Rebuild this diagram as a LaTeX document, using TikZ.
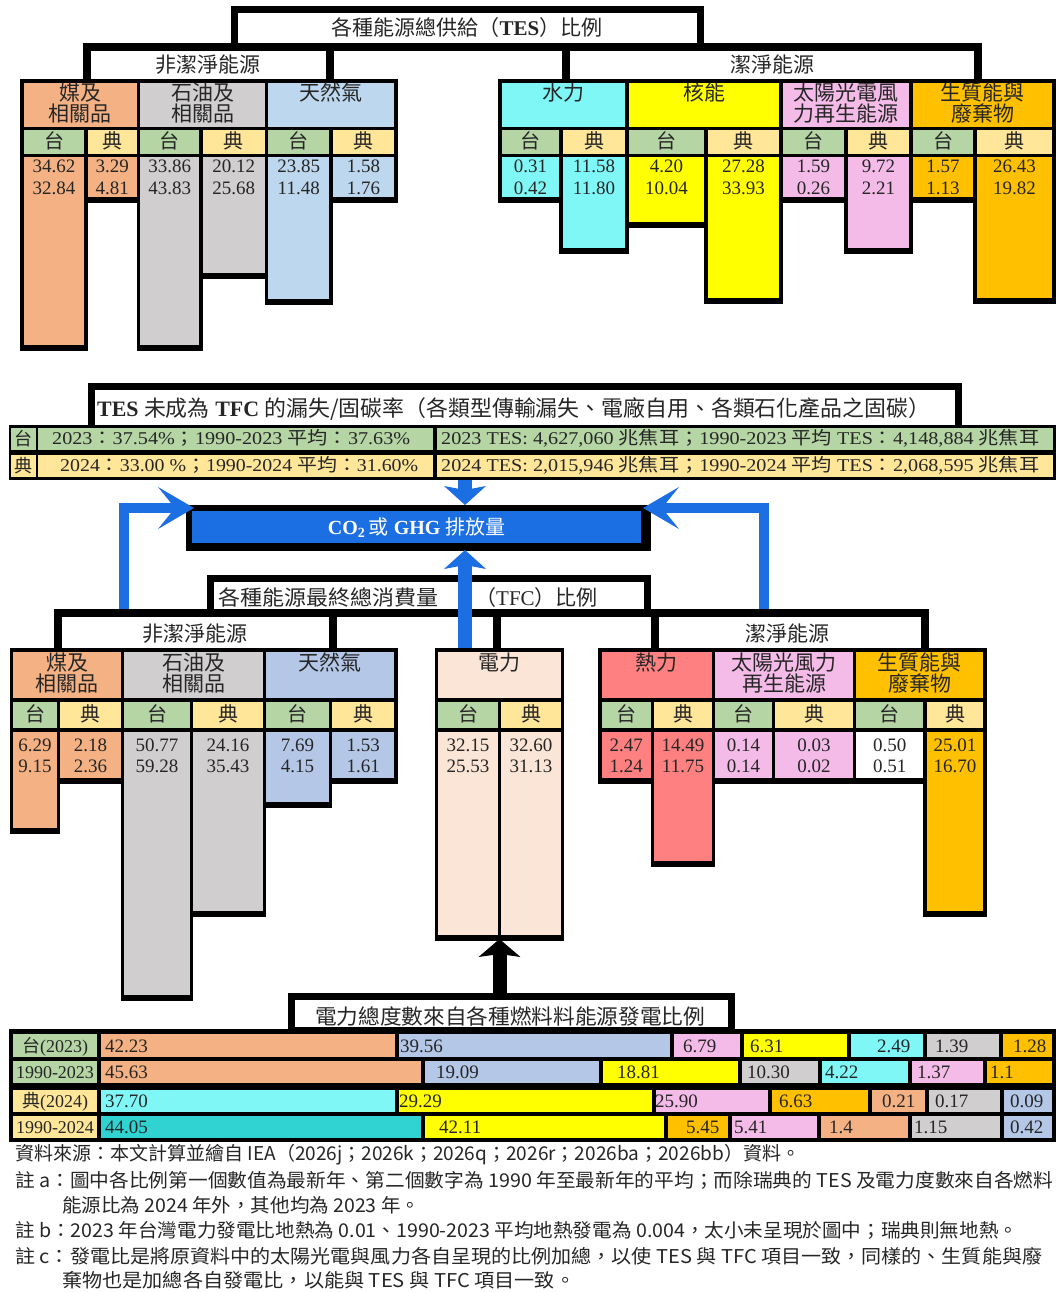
\documentclass[tikz,border=0pt]{standalone}
\usepackage{fontspec}
\usepackage{graphicx}
\setmainfont{Liberation Serif}
\newfontfamily\cjk{Noto Sans CJK TC}
\usetikzlibrary{arrows.meta}
\newcommand\C[1]{{\cjk #1}}
\newcommand\fs[1]{\fontsize{#1}{#1}\selectfont}
\definecolor{coal}{HTML}{F4B183}
\definecolor{oil}{HTML}{D0CECE}
\definecolor{gasT}{HTML}{BDD7EE}
\definecolor{gasB}{HTML}{B4C7E7}
\definecolor{hydro}{HTML}{80F7F7}
\definecolor{hydroD}{HTML}{30D2D2}
\definecolor{nuc}{HTML}{FFFF00}
\definecolor{solar}{HTML}{F4BBE8}
\definecolor{bio}{HTML}{FFC000}
\definecolor{elec}{HTML}{FBE5D6}
\definecolor{heat}{HTML}{FF8080}
\definecolor{tw}{HTML}{B5D5A5}
\definecolor{sw}{HTML}{FFE699}
\definecolor{cblue}{HTML}{1C6FE3}
\definecolor{ink}{HTML}{262626}
\tikzset{
  cl/.style={draw=black, line width=3.5pt},
  tx/.style={inner sep=0pt, anchor=base, text=ink},
  txw/.style={inner sep=0pt, anchor=base west, text=ink},
  frm/.style={draw=black, line width=7pt, fill=white},
  brk/.style={draw=black, line width=8pt, line join=miter},
  barrow/.style={draw=cblue, line width=14pt, -{Stealth[length=19pt, width=42pt, inset=4pt, line width=0pt]}},
  sarrow/.style={draw=cblue, line width=10pt, line join=miter, -{Stealth[length=36pt, width=42pt, inset=17pt, line width=0pt]}},
  karrow/.style={draw=black, line width=14pt, -{Stealth[length=18pt, width=42pt, inset=3pt, line width=0pt]}},
}
\newcommand\bx[5]{\filldraw[cl, fill=#5] (#1,#2) rectangle (#3,#4);}
\newcommand\bb[5]{\fill[black] (#1-1.75,#4) rectangle (#3+1.75,#4+4);\filldraw[cl, fill=#5] (#1,#2) rectangle (#3,#4);}
\newcommand\hd[5]{\node[tx, font=\cjk\fs{21}] (#1a) at (#2,#5) {#3};
  \node[tx, font=\cjk\fs{21}] (#1b) at (#2,#5+21) {#4};}
\newcommand\tai[3]{\node[tx, font=\cjk\fs{20}] (#1) at (#2,#3) {台};}
\newcommand\dian[3]{\node[tx, font=\cjk\fs{20}] (#1) at (#2,#3) {典};}
\newcommand\nm[5]{\node[tx, font=\fs{19}] (#1a) at (#2,#3) {#4};
  \node[tx, font=\fs{19}] (#1b) at (#2,#3+21) {#5};}
\newcommand\en[4]{\node[txw, font=\fs{19}] (#1) at (#2,#3) {#4};}
\begin{document}
\begin{tikzpicture}[x=1pt,y=-1pt]
\useasboundingbox (0,0) rectangle (1057,1292);
\fill[white] (0,0) rectangle (1057,1292);

% ================= TES tree =================
\draw[frm] (234.5,9.5) rectangle (700.5,47);
\draw[brk] (87,82) -- (87,47) -- (978,47) -- (978,82);
\draw[brk] (330,47) -- (330,82);
\draw[brk] (566,47) -- (566,82);
\node[tx, font=\fs{21}] (tesT) at (467,36) {\C{各種能源總供給（}\textbf{TES}\C{）比例}};
\node[tx, font=\cjk\fs{21}] (tesNC) at (208,73) {非潔淨能源};
\node[tx, font=\cjk\fs{21}] (tesCL) at (772,73) {潔淨能源};

% left table (TES)
\bx{22}{81}{138.5}{128.5}{coal}
\bx{138.5}{81}{266.5}{128.5}{oil}
\bx{266.5}{81}{396}{128.5}{gasT}
\bx{22}{128.5}{86}{155.5}{tw}
\bx{86}{128.5}{138.5}{155.5}{sw}
\bx{138.5}{128.5}{201}{155.5}{tw}
\bx{201}{128.5}{266.5}{155.5}{sw}
\bx{266.5}{128.5}{331}{155.5}{tw}
\bx{331}{128.5}{396}{155.5}{sw}
\bb{22}{155.5}{86}{347}{coal}
\bb{86}{155.5}{138.5}{199}{coal}
\bb{138.5}{155.5}{201}{347}{oil}
\bb{201}{155.5}{266.5}{275}{oil}
\bb{266.5}{155.5}{331}{301}{gasT}
\bb{331}{155.5}{396}{199}{gasT}
\hd{hT1}{80.25}{媒及}{相關品}{101}
\hd{hT2}{202.5}{石油及}{相關品}{101}
\hd{hT3}{331.25}{天然氣}{}{101}
\tai{sT1}{54}{149}
\dian{sT2}{112.25}{149}
\tai{sT3}{169.75}{149}
\dian{sT4}{233.75}{149}
\tai{sT5}{298.75}{149}
\dian{sT6}{363.5}{149}
\nm{nT1}{54}{173}{34.62}{32.84}
\nm{nT2}{112.25}{173}{3.29}{4.81}
\nm{nT3}{169.75}{173}{33.86}{43.83}
\nm{nT4}{233.75}{173}{20.12}{25.68}
\nm{nT5}{298.75}{173}{23.85}{11.48}
\nm{nT6}{363.5}{173}{1.58}{1.76}

% right table (TES)
\bx{500}{81}{627}{128.5}{hydro}
\bx{627}{81}{781}{128.5}{nuc}
\bx{781}{81}{911}{128.5}{solar}
\bx{911}{81}{1054}{128.5}{bio}
\bx{500}{128.5}{561}{155.5}{tw}
\bx{561}{128.5}{627}{155.5}{sw}
\bx{627}{128.5}{706}{155.5}{tw}
\bx{706}{128.5}{781}{155.5}{sw}
\bx{781}{128.5}{846}{155.5}{tw}
\bx{846}{128.5}{911}{155.5}{sw}
\bx{911}{128.5}{975}{155.5}{tw}
\bx{975}{128.5}{1054}{155.5}{sw}
\bb{500}{155.5}{561}{199}{hydro}
\bb{561}{155.5}{627}{250}{hydro}
\bb{627}{155.5}{706}{224}{nuc}
\bb{706}{155.5}{781}{300}{nuc}
\bb{781}{155.5}{846}{199}{solar}
\bb{846}{155.5}{911}{250}{solar}
\bb{911}{155.5}{975}{199}{bio}
\bb{975}{155.5}{1054}{300}{bio}
\hd{hT4}{563.5}{水力}{}{101}
\hd{hT5}{704}{核能}{}{101}
\hd{hT6}{846}{太陽光電風}{力再生能源}{101}
\hd{hT7}{982.5}{生質能與}{廢棄物}{101}
\tai{sT7}{530.5}{149}
\dian{sT8}{594}{149}
\tai{sT9}{666.5}{149}
\dian{sT10}{743.5}{149}
\tai{sT11}{813.5}{149}
\dian{sT12}{878.5}{149}
\tai{sT13}{943}{149}
\dian{sT14}{1014.5}{149}
\nm{nT7}{530.5}{173}{0.31}{0.42}
\nm{nT8}{594}{173}{11.58}{11.80}
\nm{nT9}{666.5}{173}{4.20}{10.04}
\nm{nT10}{743.5}{173}{27.28}{33.93}
\nm{nT11}{813.5}{173}{1.59}{0.26}
\nm{nT12}{878.5}{173}{9.72}{2.21}
\nm{nT13}{943}{173}{1.57}{1.13}
\nm{nT14}{1014.5}{173}{26.43}{19.82}

% ================= loss rate rows =================
\draw[frm] (91.5,386.5) rectangle (958.5,428);
\node[txw, font=\fs{22}] (lossT) at (97,416) {\resizebox{833pt}{\height}{\textbf{TES} \C{未成為} \textbf{TFC} \C{的漏失/固碳率（各類型傳輸漏失、電廠自用、各類石化產品之固碳）}}};
\fill[black] (9,425) rectangle (1056,480);
\fill[tw] (11,428) rectangle (36,450);
\fill[tw] (38,428) rectangle (433,450);
\fill[tw] (437,428) rectangle (1053,450);
\fill[sw] (11,455) rectangle (36,477);
\fill[sw] (38,455) rectangle (433,477);
\fill[sw] (437,455) rectangle (1053,477);
\node[tx, font=\cjk\fs{18}] (rTl) at (23.5,445) {台};
\node[txw, font=\fs{18}] (rTa) at (52,444) {\resizebox{358pt}{\height}{2023\C{：}37.54\%\C{；}1990-2023 \C{平均：}37.63\%}};
\node[txw, font=\fs{18}] (rTb) at (441,444) {\resizebox{598pt}{\height}{2023 TES: 4,627,060 \C{兆焦耳；}1990-2023 \C{平均} TES\C{：}4,148,884 \C{兆焦耳}}};
\node[tx, font=\cjk\fs{18}] (rDl) at (23.5,472) {典};
\node[txw, font=\fs{18}] (rDa) at (60,471) {\resizebox{358pt}{\height}{2024\C{：}33.00 \%\C{；}1990-2024 \C{平均：}31.60\%}};
\node[txw, font=\fs{18}] (rDb) at (441,471) {\resizebox{598pt}{\height}{2024 TES: 2,015,946 \C{兆焦耳；}1990-2024 \C{平均} TES\C{：}2,068,595 \C{兆焦耳}}};

% ================= CO2 box =================
\fill[black] (186,505) rectangle (651,551);
\node[fill=cblue, inner sep=0pt, minimum width=449pt, minimum height=32pt, anchor=north west, text=white, font=\fs{20}] (co2) at (192,511) {\textbf{CO\textsubscript{2}}\,\C{或} \textbf{GHG} \C{排放量}};

% ================= TFC tree =================
\draw[frm] (210.5,578.5) rectangle (647.5,613);
\draw[brk] (58,650) -- (58,613) -- (925,613) -- (925,650);
\draw[brk] (333,613) -- (333,650);
\draw[brk] (497,613) -- (497,650);
\draw[brk] (655,613) -- (655,650);
\node[txw, font=\cjk\fs{21}] (tfcT1) at (218,605) {\resizebox{220pt}{\height}{各種能源最終總消費量}};
\node[txw, font=\fs{21}] (tfcT2) at (475,605) {\C{（}TFC\C{）比例}};
\node[tx, font=\cjk\fs{21}] (tfcNC) at (195,641) {非潔淨能源};
\node[tx, font=\cjk\fs{21}] (tfcCL) at (787,641) {潔淨能源};

% left table (TFC)
\bx{11.5}{650}{122.5}{700}{coal}
\bx{122.5}{650}{264.5}{700}{oil}
\bx{264.5}{650}{396}{700}{gasB}
\bx{11.5}{700}{58.5}{730}{tw}
\bx{58.5}{700}{122.5}{730}{sw}
\bx{122.5}{700}{191.5}{730}{tw}
\bx{191.5}{700}{264.5}{730}{sw}
\bx{264.5}{700}{330.5}{730}{tw}
\bx{330.5}{700}{396}{730}{sw}
\bb{11.5}{730}{58.5}{830}{coal}
\bb{58.5}{730}{122.5}{780}{coal}
\bb{122.5}{730}{191.5}{997}{oil}
\bb{191.5}{730}{264.5}{913}{oil}
\bb{264.5}{730}{330.5}{804}{gasB}
\bb{330.5}{730}{396}{780}{gasB}
\hd{hF1}{67}{煤及}{相關品}{670}
\hd{hF2}{193.5}{石油及}{相關品}{670}
\hd{hF3}{330.25}{天然氣}{}{670}
\tai{sF1}{35}{721}
\dian{sF2}{90.5}{721}
\tai{sF3}{157}{721}
\dian{sF4}{228}{721}
\tai{sF5}{297.5}{721}
\dian{sF6}{363.25}{721}
\nm{nF1}{35}{751}{6.29}{9.15}
\nm{nF2}{90.5}{751}{2.18}{2.36}
\nm{nF3}{157}{751}{50.77}{59.28}
\nm{nF4}{228}{751}{24.16}{35.43}
\nm{nF5}{297.5}{751}{7.69}{4.15}
\nm{nF6}{363.25}{751}{1.53}{1.61}

% electricity (TFC)
\bx{436.5}{650}{562.5}{700}{elec}
\bx{436.5}{700}{499.5}{730}{tw}
\bx{499.5}{700}{562.5}{730}{sw}
\bb{436.5}{730}{499.5}{937}{elec}
\bb{499.5}{730}{562.5}{937}{elec}
\hd{hF4}{499.5}{電力}{}{670}
\tai{sF7}{468}{721}
\dian{sF8}{531}{721}
\nm{nF7}{468}{751}{32.15}{25.53}
\nm{nF8}{531}{751}{32.60}{31.13}
\coordinate (ebot) at (499.5,939);

% right table (TFC)
\bx{600}{650}{713.5}{700}{heat}
\bx{713.5}{650}{854.5}{700}{solar}
\bx{854.5}{650}{985}{700}{bio}
\bx{600}{700}{652.5}{730}{tw}
\bx{652.5}{700}{713.5}{730}{sw}
\bx{713.5}{700}{773.5}{730}{tw}
\bx{773.5}{700}{854.5}{730}{sw}
\bx{854.5}{700}{925}{730}{tw}
\bx{925}{700}{985}{730}{sw}
\bb{600}{730}{652.5}{780}{heat}
\bb{652.5}{730}{713.5}{863}{heat}
\bb{713.5}{730}{773.5}{780}{solar}
\bb{773.5}{730}{854.5}{780}{solar}
\bb{854.5}{730}{925}{780}{white}
\bb{925}{730}{985}{913}{bio}
\hd{hF5}{656.75}{熱力}{}{670}
\hd{hF6}{784}{太陽光風力}{再生能源}{670}
\hd{hF7}{919.75}{生質能與}{廢棄物}{670}
\tai{sF9}{626.25}{721}
\dian{sF10}{683}{721}
\tai{sF11}{743.5}{721}
\dian{sF12}{814}{721}
\tai{sF13}{889.75}{721}
\dian{sF14}{955}{721}
\nm{nF9}{626.25}{751}{2.47}{1.24}
\nm{nF10}{683}{751}{14.49}{11.75}
\nm{nF11}{743.5}{751}{0.14}{0.14}
\nm{nF12}{814}{751}{0.03}{0.02}
\nm{nF13}{889.75}{751}{0.50}{0.51}
\nm{nF14}{955}{751}{25.01}{16.70}

% ================= blue connectors =================
\coordinate (tesout) at (465,480);
\coordinate (co2top) at (465,505);
\coordinate (tfcsrc) at (465,648);
\coordinate (co2bot) at (465,550);
\coordinate (lsrc) at (124,609);
\coordinate (ldst) at (194,508);
\coordinate (rsrc) at (764,609);
\coordinate (rdst) at (643,508);
\draw[barrow] (tesout) -- (co2top);
\draw[barrow] (tfcsrc) -- (co2bot);
\draw[sarrow] (lsrc) |- (ldst);
\draw[sarrow] (rsrc) |- (rdst);

% ================= electricity generation =================
\draw[frm] (291.5,996.5) rectangle (731.5,1030);
\node[txw, font=\cjk\fs{21}] (genT) at (315,1024) {\resizebox{390pt}{\height}{電力總度數來自各種燃料料能源發電比例}};
\coordinate (gensrc) at (499.5,996);
\draw[karrow] (gensrc) -- (ebot);
\fill[black] (9,1029) rectangle (1056,1142);
% row 1
\bx{11}{1032}{99}{1059}{tw}
\bx{99}{1032}{397}{1059}{coal}
\bx{397}{1032}{672}{1059}{gasB}
\bx{672}{1032}{742}{1059}{solar}
\bx{742}{1032}{849}{1059}{nuc}
\bx{849}{1032}{925}{1059}{hydro}
\bx{925}{1032}{1001}{1059}{oil}
\bx{1001}{1032}{1054}{1059}{bio}
% row 2
\bx{11}{1059}{99}{1085}{tw}
\bx{99}{1059}{423}{1085}{coal}
\bx{423}{1059}{601}{1085}{gasB}
\bx{601}{1059}{740}{1085}{nuc}
\bx{740}{1059}{820}{1085}{oil}
\bx{820}{1059}{910}{1085}{hydro}
\bx{910}{1059}{985}{1085}{solar}
\bx{985}{1059}{1054}{1085}{bio}
% row 3
\bx{11}{1088}{99}{1114}{sw}
\bx{99}{1088}{397}{1114}{hydro}
\bx{397}{1088}{654}{1114}{nuc}
\bx{654}{1088}{770}{1114}{solar}
\bx{770}{1088}{870}{1114}{bio}
\bx{870}{1088}{927}{1114}{coal}
\bx{927}{1088}{1002}{1114}{oil}
\bx{1002}{1088}{1054}{1114}{gasB}
% row 4
\bx{11}{1114}{99}{1140}{sw}
\bx{99}{1114}{423}{1140}{hydroD}
\bx{423}{1114}{666}{1140}{nuc}
\bx{666}{1114}{730}{1140}{bio}
\bx{730}{1114}{819}{1140}{solar}
\bx{819}{1114}{910}{1140}{coal}
\bx{910}{1114}{1002}{1140}{oil}
\bx{1002}{1114}{1054}{1140}{gasB}
\node[tx, font=\fs{18}] (lb1) at (55,1052) {\C{台}(2023)};
\node[tx, font=\fs{18}] (lb2) at (55,1078) {1990-2023};
\node[tx, font=\fs{18}] (lb3) at (55,1107) {\C{典}(2024)};
\node[tx, font=\fs{18}] (lb4) at (55,1133) {1990-2024};
\en{e11}{105}{1052}{42.23}
\en{e12}{400}{1052}{39.56}
\en{e13}{683}{1052}{6.79}
\en{e14}{750}{1052}{6.31}
\en{e15}{877}{1052}{2.49}
\en{e16}{935}{1052}{1.39}
\en{e17}{1013}{1052}{1.28}
\en{e21}{105}{1078}{45.63}
\en{e22}{436}{1078}{19.09}
\en{e23}{617}{1078}{18.81}
\en{e24}{747}{1078}{10.30}
\en{e25}{825}{1078}{4.22}
\en{e26}{917}{1078}{1.37}
\en{e27}{990}{1078}{1.1}
\en{e31}{105}{1107}{37.70}
\en{e32}{399}{1107}{29.29}
\en{e33}{655}{1107}{25.90}
\en{e34}{779}{1107}{6.63}
\en{e35}{882}{1107}{0.21}
\en{e36}{935}{1107}{0.17}
\en{e37}{1010}{1107}{0.09}
\en{e41}{105}{1133}{44.05}
\en{e42}{439}{1133}{42.11}
\en{e43}{686}{1133}{5.45}
\en{e44}{734}{1133}{5.41}
\en{e45}{829}{1133}{1.4}
\en{e46}{914}{1133}{1.15}
\en{e47}{1010}{1133}{0.42}

% ================= notes =================
\node[txw, font=\cjk\fs{19}] (note1) at (15,1160) {\resizebox{785pt}{\height}{資料來源：本文計算並繪自 IEA（2026j；2026k；2026q；2026r；2026ba；2026bb）資料。}};
\node[txw, font=\cjk\fs{19}] (note2) at (15,1187) {\resizebox{1038pt}{\height}{註 a：圖中各比例第一個數值為最新年、第二個數字為 1990 年至最新年的平均；而除瑞典的 TES 及電力度數來自各燃料}};
\node[txw, font=\cjk\fs{19}] (note3) at (62,1212) {\resizebox{358pt}{\height}{能源比為 2024 年外，其他均為 2023 年。}};
\node[txw, font=\cjk\fs{19}] (note4) at (15,1237) {\resizebox{1003pt}{\height}{註 b：2023 年台灣電力發電比地熱為  0.01、1990-2023 平均地熱發電為 0.004，太小未呈現於圖中；瑞典則無地熱。}};
\node[txw, font=\cjk\fs{19}] (note5) at (15,1263) {\resizebox{1027pt}{\height}{註 c：發電比是將原資料中的太陽光電與風力各自呈現的比例加總，以使 TES 與 TFC 項目一致，同樣的、生質能與廢}};
\node[txw, font=\cjk\fs{19}] (note6) at (62,1287) {\resizebox{513pt}{\height}{棄物也是加總各自發電比，以能與 TES 與 TFC 項目一致。}};
\end{tikzpicture}
\end{document}
